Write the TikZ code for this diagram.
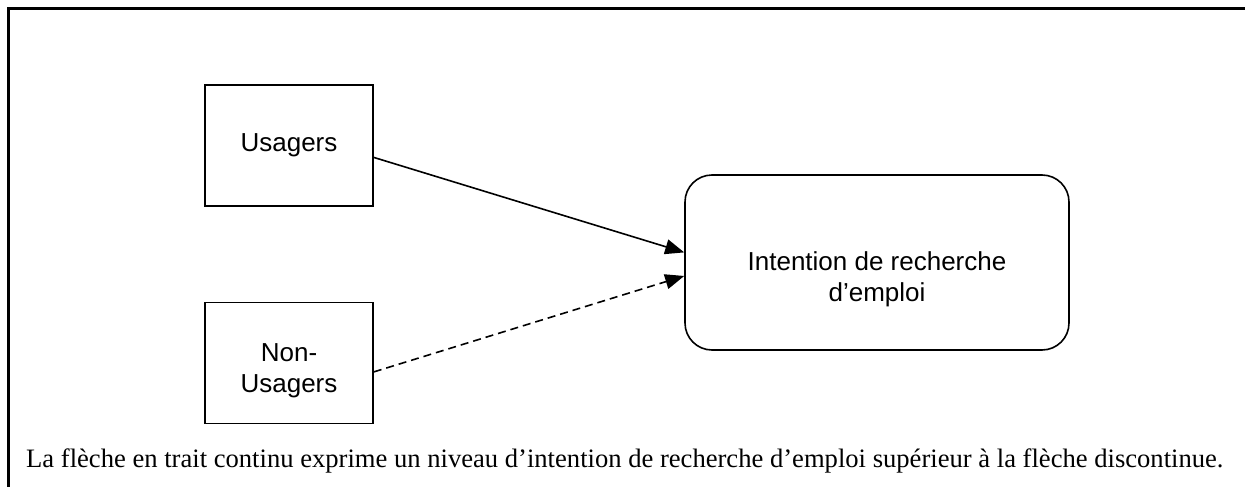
\documentclass[tikz,border=0pt]{standalone}
\usepackage{fontspec}
\setmainfont{Liberation Serif}
\newfontfamily\arialf{Liberation Sans}
\usetikzlibrary{arrows.meta}
\begin{document}
\begin{tikzpicture}[x=1pt,y=-1pt,
  sbox/.style={draw,line width=1.6pt,minimum width=168pt,minimum height=121pt,inner sep=0pt,
    font=\arialf\fontsize{26}{31}\selectfont,align=center},
  rbox/.style={draw,line width=1.6pt,rounded corners=27pt,minimum width=384pt,minimum height=175pt,inner sep=0pt},
  lbl/.style={font=\arialf\fontsize{26}{31}\selectfont,align=center,inner sep=0pt},
  arr/.style={line width=1.6pt,-{Triangle[length=19pt,width=15pt]}},
  frameline/.style={line width=3pt}]
\useasboundingbox (0,0) rectangle (1245,487);
\draw[frameline] (8,487) -- (8,9) -- (1245,9);
\node[sbox] (us) at (289,145.5) {Usagers};
\node[sbox] (nus) at (289,363) {};
\node[lbl] (nusl) at (289,371) {Non-\\Usagers};
\node[rbox] (int) at (877,262.5) {};
\node[lbl] (intl) at (877,279) {Intention de recherche\\d’emploi};
\draw[arr] (us.-8.5) -- (int.177.2);
\draw[arr,dash pattern=on 8pt off 5pt] (nus.-6.8) -- (int.184.9);
\node[anchor=base west,inner sep=0pt,font=\fontsize{26.6}{30}\selectfont] (cap) at (26,467)
  {La flèche en trait continu exprime un niveau d’intention de recherche d’emploi supérieur à la flèche discontinue.};
\end{tikzpicture}
\end{document}
